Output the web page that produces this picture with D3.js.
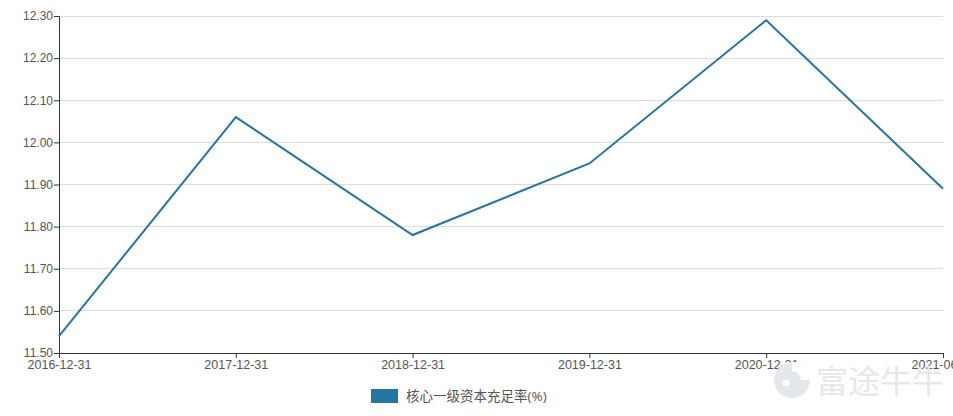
<!DOCTYPE html>
<html>
<head>
<meta charset="utf-8">
<script src="https://cdn.jsdelivr.net/npm/d3@7"></script>
<style>
  html, body { margin: 0; padding: 0; background: #fff; }
  svg { display: block; font-family: "Open Sans", "Noto Sans CJK SC", sans-serif; }
</style>
</head>
<body>
<svg id="chart"></svg>
<script>
const dates = ['2016-12-31', '2017-12-31', '2018-12-31', '2019-12-31', '2020-12-31', '2021-06-30'];
const ratio = [11.54, 12.06, 11.78, 11.95, 12.29, 11.89];
const yTicks = [11.5, 11.6, 11.7, 11.8, 11.9, 12.0, 12.1, 12.2, 12.3];
const seriesName = '核心一级资本充足率(%)';

const W = 953, H = 416;
const margin = { top: 16, right: 10, bottom: 63, left: 59 },
  width = W - margin.left - margin.right,
  height = H - margin.top - margin.bottom;

const svg = d3.select('#chart').attr('width', W).attr('height', H);
const g = svg.append('g').attr('transform', 'translate(' + margin.left + ',' + margin.top + ')');

const x = d3.scalePoint().domain(dates).range([0, width]);
const y = d3.scaleLinear().domain([11.5, 12.3]).range([height, 0]);

// watermark
const wm = svg.append('g').attr('fill', '#e4e8ec');
wm.append('circle').attr('cx', 792).attr('cy', 380).attr('r', 18);
wm.append('circle').attr('cx', 786).attr('cy', 383).attr('r', 3.5).attr('fill', '#fff');
wm.append('path').attr('d', 'M792,362 A18,18 0 0,1 810,380 L801,380 A9,9 0 0,0 792,371 Z').attr('fill', '#fff');
wm.append('text')
  .attr('x', 816).attr('y', 393)
  .style('font-size', '32px')
  .style('font-family', '"Noto Sans CJK SC", sans-serif')
  .text('富途牛牛');

// grid
g.append('g')
  .selectAll('line')
  .data(yTicks.slice(1))
  .enter()
  .append('line')
  .attr('x1', 0).attr('x2', width)
  .attr('y1', d => y(d)).attr('y2', d => y(d))
  .attr('stroke', '#dcdcdc').attr('stroke-width', 1)
  .attr('shape-rendering', 'crispEdges');

// y axis
const yAxis = g.append('g').call(d3.axisLeft(y).tickValues(yTicks).tickFormat(d3.format('.2f')).tickSize(5));
yAxis.select('.domain').attr('stroke', '#333');
yAxis.selectAll('.tick line').attr('stroke', '#333');
yAxis.selectAll('text').attr('fill', '#555').style('font-size', '12px').attr('x', -6);

// x axis
const xAxis = g.append('g')
  .attr('transform', 'translate(0,' + height + ')')
  .call(d3.axisBottom(x).tickSize(5).tickSizeOuter(0));
xAxis.select('.domain').attr('stroke', '#333');
xAxis.selectAll('.tick line').attr('stroke', '#333');
xAxis.selectAll('text').attr('fill', '#555').style('font-size', '12.5px').attr('y', 7);

// line
g.append('path')
  .datum(ratio)
  .attr('fill', 'none')
  .attr('stroke', '#2377a4')
  .attr('stroke-width', 2)
  .attr('d', d3.line().x((d, i) => x(dates[i])).y(d => y(d)));

// legend
const legend = svg.append('g').attr('transform', 'translate(371,389)');
legend.append('rect').attr('width', 27).attr('height', 14).attr('fill', '#2377a4');
legend.append('text').attr('x', 35).attr('y', 12)
  .attr('fill', '#555').style('font-size', '13.5px')
  .text(seriesName);
</script>
</body>
</html>
